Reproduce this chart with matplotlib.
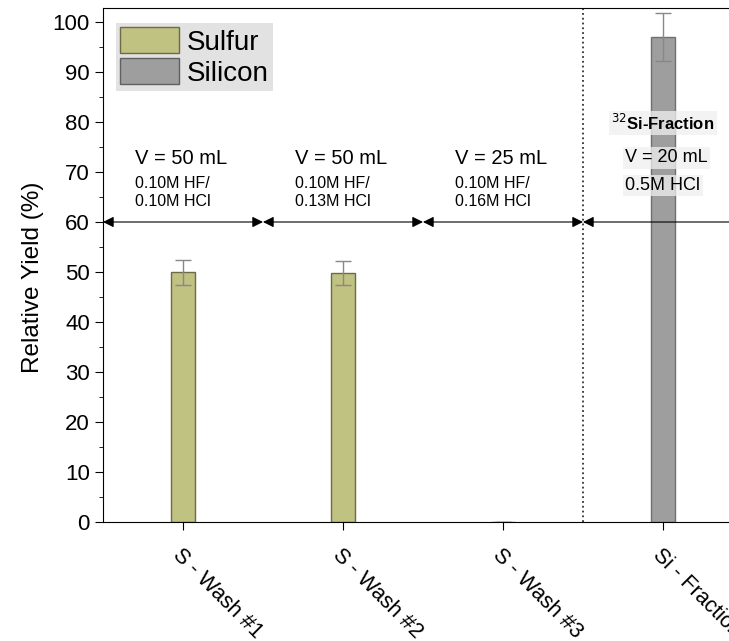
import matplotlib.pyplot as plt
from matplotlib.patches import Patch

plt.rcParams['font.family'] = ['Liberation Sans', 'DejaVu Sans']

categories = ['S - Wash #1', 'S - Wash #2', 'S - Wash #3', 'Si - Fraction']
sulfur = [50.0, 49.8, 0.1]
sulfur_err = [2.5, 2.4, 0.0]
silicon = [97.0]
silicon_err = [4.8]
volumes = ['V = 50 mL', 'V = 50 mL', 'V = 25 mL', 'V = 20 mL']
solutions = ['0.10M HF/\n0.10M HCl', '0.10M HF/\n0.13M HCl', '0.10M HF/\n0.16M HCl']
si_solution = '0.5M HCl'

sulfur_col = '#c0c282'
silicon_col = '#9e9e9e'

fig = plt.figure(figsize=(7.29, 6.41), dpi=100)
ax = fig.add_axes([103/729, 1 - 522/641, 640/729, 514/641])

x = list(range(len(categories)))
ax.bar(x[:3], sulfur, width=0.15, color=sulfur_col, edgecolor='#6b6b45', linewidth=1)
ax.errorbar(x[:3], sulfur, yerr=sulfur_err, fmt='none', ecolor='#888888', capsize=6, elinewidth=1)
ax.bar(x[3:], silicon, width=0.15, color=silicon_col, edgecolor='#707070', linewidth=1)
ax.errorbar(x[3:], silicon, yerr=silicon_err, fmt='none', ecolor='#888888', capsize=6, elinewidth=1)

ax.set_xlim(-0.5, 3.5)
ax.set_ylim(0, 102.8)
ax.set_yticks(range(0, 101, 10))
ax.set_yticks(range(5, 101, 10), minor=True)
ax.set_xticks(x)
ax.set_xticklabels(categories, rotation=-45, ha='left', va='top', rotation_mode='anchor', fontsize=15.5)
ax.tick_params(axis='x', length=6, pad=10)
ax.tick_params(axis='y', which='major', length=6, labelsize=16)
ax.tick_params(axis='y', which='minor', length=3)
ax.set_ylabel('Relative Yield (%)', fontsize=17.5)
ax.yaxis.set_label_coords(-0.092, 0.477)

# separator and volume arrows
ax.axvline(2.5, color='#333333', linestyle=':', linewidth=1.3)
for i in range(4):
    ax.annotate('', xy=(i - 0.5, 60), xytext=(i + 0.5, 60),
                arrowprops=dict(arrowstyle='<|-|>', color='black', lw=0.8,
                                mutation_scale=16, shrinkA=0, shrinkB=0))

box = dict(facecolor='#f0f0f0', edgecolor='none', alpha=0.75, pad=1.5)
for i in range(3):
    ax.text(i - 0.3, 72.8, volumes[i], fontsize=14.5, ha='left', va='center')
    ax.text(i - 0.3, 65.9, solutions[i], fontsize=11.5, ha='left', va='center',
            linespacing=1.3)
ax.text(2.765, 72.8, volumes[3], fontsize=13, ha='left', va='center', bbox=box)
ax.text(2.765, 67.3, si_solution, fontsize=13, ha='left', va='center', bbox=box)
ax.text(3, 79.8, r'$^{32}$Si-Fraction', fontsize=12, fontweight='bold',
        ha='center', va='center', bbox=box)

handles = [Patch(facecolor=sulfur_col, edgecolor='#6b6b45', label='Sulfur'),
           Patch(facecolor=silicon_col, edgecolor='#606060', label='Silicon')]
leg = ax.legend(handles=handles, loc='upper left', bbox_to_anchor=(116/729, 1 - 23/641),
                bbox_transform=fig.transFigure, fontsize=20, handlelength=2.1, handleheight=1.05,
                handletextpad=0.3, labelspacing=0.1, borderpad=0.15, borderaxespad=0,
                fancybox=False, framealpha=1)
leg.get_frame().set_facecolor('#e2e2e2')
leg.get_frame().set_edgecolor('none')

fig.savefig('out.png', dpi=100)
